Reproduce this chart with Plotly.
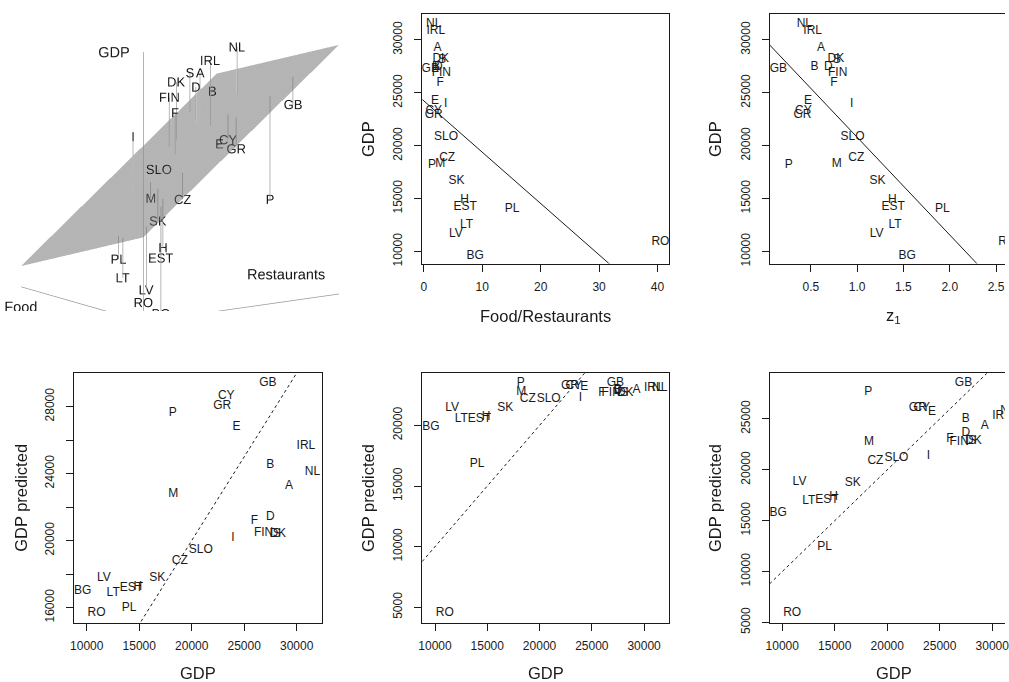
import numpy as np
import plotly.graph_objects as go

# ---------------- data ----------------
countries = ["A", "B", "BG", "CY", "CZ", "D", "DK", "E", "EST", "F", "FIN", "GB", "GR",
             "H", "I", "IRL", "LT", "LV", "M", "NL", "P", "PL", "RO", "S", "SK", "SLO"]

gdp = [29280, 27480, 9620, 23290, 18870, 27480, 28200, 24270, 14250, 25970, 26850, 27260, 22910,
       14880, 23920, 30880, 12520, 11640, 18250, 31500, 18190, 14030, 10940, 28100, 16710, 20870]

food_rest_ratio = [2.35, 2.1, 8.8, 1.7, 4.0, 2.5, 2.9, 1.9, 7.1, 2.8, 3.0, 1.1, 1.7,
                   7.0, 3.75, 2.05, 7.3, 5.5, 2.8, 1.7, 1.4, 15.1, 40.5, 3.1, 5.6, 3.8]

z1 = [0.61, 0.54, 1.54, 0.42, 0.99, 0.69, 0.77, 0.47, 1.39, 0.75, 0.79, 0.15, 0.41,
      1.38, 0.94, 0.52, 1.41, 1.21, 0.78, 0.43, 0.26, 1.92, 2.62, 0.78, 1.22, 0.95]

# predictions of the three models
pred_food_rest = [23270, 24480, 16960, 28657, 18800, 21430, 20380, 26750, 17190, 21190, 20480, 29433, 28060,
                  17250, 20140, 25660, 16860, 17750, 22790, 24120, 27600, 15960, 15660, 20380, 17750, 19440]
pred_ratio = [22934, 22950, 19863, 23236, 22139, 22800, 22660, 23153, 20548, 22660, 22660, 23510, 23236,
              20685, 22276, 23071, 20548, 21426, 22742, 23071, 23482, 16792, 4506, 22660, 21426, 22194]
pred_z1 = [24310, 25000, 15790, 26110, 20910, 23660, 22870, 25660, 17040, 23030, 22780, 28570, 26050,
           17300, 21400, 25300, 16970, 18840, 22780, 25820, 27620, 12380, 5890, 22870, 18740, 21200]

# 3D panel: expenditure (estimated from the perspective picture)
food = [1771, 1726, 803, 1502, 1272, 1923, 1936, 1101, 1038, 1706, 1926, 1038, 1309,
        1146, 1806, 1600, 1147, 954, 1643, 1698, 1109, 1256, 800, 2189, 1403, 1658]
restaurants = [957, 1021, 147, 1010, 559, 1011, 878, 730, 276, 744, 822, 1220, 962,
               349, 497, 937, 63, 126, 534, 1182, 1095, 93, 20, 1113, 454, 600]
food_axis = [800, 2400]
rest_axis = [20, 1420]
gdp_axis_3d = [9073, 35130]

# fitted lines / plane
ratio_line = {"intercept": 24240, "slope": -485}
z1_line = {"intercept": 30030, "slope": -9230}
plane = {"intercept": 20092, "food": -3.856, "restaurants": 11.362}

# axis ticks
gdp_ticks = [10000, 15000, 20000, 25000, 30000]
ratio_ticks = [0, 10, 20, 30, 40]
z1_ticks = [0.5, 1.0, 1.5, 2.0, 2.5]
z1_ticktext = ["0.5", "1.0", "1.5", "2.0", "2.5"]
pred1_ticks = [16000, 18000, 20000, 22000, 24000, 26000, 28000]
pred1_ticktext = ["16000", " ", "20000", " ", "24000", " ", "28000"]
pred2_ticks = [5000, 10000, 15000, 20000]
pred3_ticks = [5000, 10000, 15000, 20000, 25000]

# ---------------- layout geometry ----------------
W, H = 1009, 682          # reference picture size
H_PAGE = 693              # page height (the snapshot is squeezed back to 682)
FONT = "Liberation Sans, Arial, Helvetica, sans-serif"
INK = "#1a1a1a"


def px_x(p):
    return p / W


def px_y(p):
    return 1 - p / H


col_dom = [[px_x(70.7), px_x(320.7)], [px_x(421.5), px_x(670.5)], [px_x(771.7), 1.0]]
row_dom = [[px_y(263.5), px_y(14.3)], [px_y(622.6), px_y(373.2)]]

fig = go.Figure()

# ---------------- 3D panel ----------------
def plane_z(f, r):
    return plane["intercept"] + plane["food"] * f + plane["restaurants"] * r

r0, r1 = rest_axis
f0, f1 = food_axis
g0, g1 = gdp_axis_3d

rg = np.linspace(r0, r1, 30)
fg = np.linspace(f0, f1, 30)
RR, FF = np.meshgrid(rg, fg)
ZZ = plane_z(FF, RR)
fig.add_trace(go.Surface(x=RR, y=FF, z=ZZ, colorscale=[[0, "#6a6a6a"], [1, "#6a6a6a"]],
                         showscale=False, opacity=0.5, hoverinfo="skip",
                         lighting=dict(ambient=0.9, diffuse=0.2, specular=0.0, roughness=1.0),
                         scene="scene"))

lx, ly, lz = [], [], []
for f, r, g in zip(food, restaurants, gdp):
    lx += [r, r, None]
    ly += [f, f, None]
    lz += [g, plane_z(f, r), None]
fig.add_trace(go.Scatter3d(x=lx, y=ly, z=lz, mode="lines", line=dict(color="#a0a0a0", width=1.5),
                           hoverinfo="skip", scene="scene"))

for ax_x, ax_y, ax_z in [([r0, r1], [f0, f0], [g0, g0]),
                         ([r0, r0], [f0, f1], [g0, g0]),
                         ([r0, r0], [f0, f0], [g0, g1])]:
    fig.add_trace(go.Scatter3d(x=ax_x, y=ax_y, z=ax_z, mode="lines",
                               line=dict(color="#9a9a9a", width=1.5), hoverinfo="skip", scene="scene"))

fig.add_trace(go.Scatter3d(x=restaurants, y=food, z=gdp, mode="text", text=countries,
                           textposition="middle center",
                           textfont=dict(family=FONT, size=13, color=INK),
                           hoverinfo="skip", scene="scene"))
fig.add_trace(go.Scatter3d(x=[r0, r1, r0], y=[f1, f0, f0], z=[g0, g0, g1], mode="text",
                           text=["Food", "Restaurants", "GDP"],
                           textposition=["bottom center", "top left", "middle left"],
                           textfont=dict(family=FONT, size=14.5, color=INK),
                           hoverinfo="skip", scene="scene"))

hidden = dict(visible=False, showbackground=False, showgrid=False, zeroline=False,
              showticklabels=False, showspikes=False, title="")
ZOOM3D = 1.54
fig.update_layout(scene=dict(
    domain=dict(x=[0.0, 0.3518], y=[0.544, 1.0]),
    xaxis=dict(range=[r0, r1], **hidden),
    yaxis=dict(range=[f0, f1], **hidden),
    zaxis=dict(range=[g0, g1], **hidden),
    aspectmode="manual", aspectratio=dict(x=1 * ZOOM3D, y=0.888 * ZOOM3D, z=1.15 * ZOOM3D),
    camera=dict(eye=dict(x=-0.769, y=-1.091, z=0.275), center=dict(x=0, y=0, z=0),
                up=dict(x=0, y=0, z=1), projection=dict(type="orthographic")),
    bgcolor="white",
))

# ---------------- 2D panels ----------------
def text_trace(x, y, xa, ya):
    return go.Scatter(x=x, y=y, mode="text", text=countries, textposition="middle center",
                      textfont=dict(family=FONT, size=12, color=INK), cliponaxis=True,
                      hoverinfo="skip", xaxis=xa, yaxis=ya, showlegend=False)


def line_trace(x, y, xa, ya, dash="solid"):
    return go.Scatter(x=x, y=y, mode="lines", line=dict(color=INK, width=1, dash=dash),
                      hoverinfo="skip", xaxis=xa, yaxis=ya, showlegend=False)


# panel 2: GDP vs Food/Restaurants
xr2 = [-0.28, 42.0]
yr_gdp = [8870, 32420]
fig.add_trace(text_trace(food_rest_ratio, gdp, "x", "y"))
fig.add_trace(line_trace(xr2, [ratio_line["intercept"] + ratio_line["slope"] * v for v in xr2], "x", "y"))

# panel 3: GDP vs z1
xr3 = [0.054, 2.597]
fig.add_trace(text_trace(z1, gdp, "x2", "y2"))
fig.add_trace(line_trace(xr3, [z1_line["intercept"] + z1_line["slope"] * v for v in xr3], "x2", "y2"))

# panel 4
xr4 = [8800, 32425]
yr4 = [15104, 29990]
fig.add_trace(text_trace(gdp, pred_food_rest, "x3", "y3"))
fig.add_trace(line_trace(xr4, xr4, "x3", "y3", dash="3px,3px"))

# panel 5
xr5 = [8770, 32400]
yr5 = [3739, 24305]
fig.add_trace(text_trace(gdp, pred_ratio, "x4", "y4"))
fig.add_trace(line_trace(xr5, xr5, "x4", "y4", dash="3px,3px"))

# panel 6
xr6 = [8790, 31215]
yr6 = [4983, 29495]
fig.add_trace(text_trace(gdp, pred_z1, "x5", "y5"))
fig.add_trace(line_trace(xr6, xr6, "x5", "y5", dash="3px,3px"))


def axis(domain, rng, tickvals, ticktext, anchor, mirror=True, angle=0, standoff=5):
    return dict(domain=domain, range=rng, tickvals=tickvals, ticktext=ticktext, anchor=anchor,
                showline=True, linecolor=INK, linewidth=1, mirror=mirror,
                ticks="outside", ticklen=7, tickcolor=INK, tickwidth=1,
                showgrid=False, zeroline=False, tickangle=angle, ticklabelstandoff=standoff,
                ticklabeloverflow="allow",
                tickfont=dict(family=FONT, size=12, color=INK), fixedrange=True)


gt = [str(v) for v in gdp_ticks]
YS = 7
fig.update_layout(
    xaxis=axis(col_dom[1], xr2, ratio_ticks, [str(v) for v in ratio_ticks], "y"),
    yaxis=axis(row_dom[0], yr_gdp, gdp_ticks, gt, "x", angle=-90, standoff=YS),
    xaxis2=axis(col_dom[2], xr3, z1_ticks, z1_ticktext, "y2"),
    yaxis2=axis(row_dom[0], yr_gdp, gdp_ticks, gt, "x2", mirror=False, angle=-90, standoff=YS),
    xaxis3=axis(col_dom[0], xr4, gdp_ticks, gt, "y3"),
    yaxis3=axis(row_dom[1], yr4, pred1_ticks, pred1_ticktext, "x3", angle=-90, standoff=YS),
    xaxis4=axis(col_dom[1], xr5, gdp_ticks, gt, "y4"),
    yaxis4=axis(row_dom[1], yr5, pred2_ticks, [str(v) for v in pred2_ticks], "x4", angle=-90, standoff=YS),
    xaxis5=axis(col_dom[2], xr6, gdp_ticks, gt, "y5"),
    yaxis5=axis(row_dom[1], yr6, pred3_ticks, [str(v) for v in pred3_ticks], "x5", mirror=False,
                angle=-90, standoff=YS),
)

# axis titles
titles = [
    ("Food/Restaurants", 546, 316, 0), ("GDP", 367, 139, -90),
    ("z<sub>1</sub>", 896.7, 316, 0), ("GDP", 716.7, 139, -90),
    ("GDP", 195.7, 673, 0), ("GDP predicted", 17, 498, -90),
    ("GDP", 546, 673, 0), ("GDP predicted", 367, 498, -90),
    ("GDP", 896.7, 673, 0), ("GDP predicted", 716.7, 498, -90),
]
for txt, x, y, ang in titles:
    fig.add_annotation(text=txt, x=px_x(x), y=px_y(y), xref="paper", yref="paper",
                       xanchor="center", yanchor="middle", showarrow=False, textangle=ang,
                       font=dict(family=FONT, size=16.5, color=INK))

fig.update_layout(width=W, height=H_PAGE, autosize=False, margin=dict(l=0, r=0, t=0, b=0),
                  paper_bgcolor="white", plot_bgcolor="white", showlegend=False,
                  font=dict(family=FONT, color=INK))

fig.write_html("out.html", config={"displayModeBar": False, "responsive": False},
               post_script="document.documentElement.style.margin='0px';"
                           "document.documentElement.style.overflow='hidden';"
                           "document.body.style.margin='0px';document.body.style.padding='0px';"
                           "document.body.style.overflow='hidden';"
                           "var gd=document.getElementById('{plot_id}');"
                           "gd.style.position='fixed';gd.style.left='0px';gd.style.top='0px';")
